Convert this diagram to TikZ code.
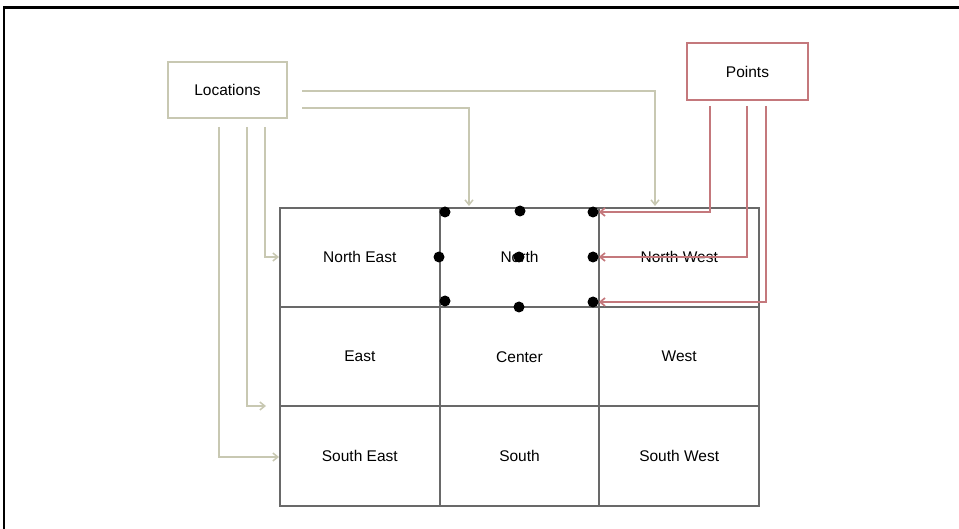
\documentclass[tikz,border=0pt]{standalone}
\usepackage{fontspec}
\setmainfont{Liberation Sans}
\usetikzlibrary{arrows.meta}
\definecolor{beige}{RGB}{200,200,178}
\definecolor{pred}{RGB}{196,120,124}
\definecolor{gridc}{RGB}{105,105,105}
\begin{document}
\begin{tikzpicture}[x=1pt,y=-1pt,
  every node/.style={font=\fontsize{15.5}{18}\selectfont},
  cell/.style={draw=gridc,line width=2pt,minimum width=159.67pt,minimum height=99.33pt,inner sep=0pt},
  lbox/.style={draw=beige,line width=1.4pt,minimum width=119pt,minimum height=56pt,inner sep=0pt},
  pbox/.style={draw=pred,line width=1.4pt,minimum width=121pt,minimum height=57pt,inner sep=0pt},
  larrow/.style={draw=beige,line width=1.5pt,-{Straight Barb[length=5pt,width=8pt]}},
  parrow/.style={draw=pred,line width=1.7pt,-{Straight Barb[length=5pt,width=8pt]}},
  dotn/.style={circle,fill=black,minimum size=11pt,inner sep=0pt}
]
\useasboundingbox (0,0) rectangle (959,529);
% frame
\draw[line width=3pt] (3,8) -- (959,8);
\draw[line width=2pt] (3.7,8) -- (3.7,529);
% grid cells
\node[cell] (ne) at (359.8,257.3) {North East};
\node[cell] (n)  at (519.5,257.3) {North};
\node[cell] (nw) at (679.2,257.3) {North West};
\node[cell] (e)  at (359.8,356.7) {East};
\node[cell] (c)  at (519.5,356.7) {Center};
\node[cell] (w)  at (679.2,356.7) {West};
\node[cell] (se) at (359.8,456.0) {South East};
\node[cell] (s)  at (519.5,456.0) {South};
\node[cell] (sw) at (679.2,456.0) {South West};
% boxes
\node[lbox] (loc) at (227.5,90) {Locations};
\node[pbox] (pts) at (747.5,71.5) {Points};
% dots
\node[dotn] (d1) at (445,212) {};
\node[dotn] (d2) at (520,211) {};
\node[dotn] (d3) at (593,212) {};
\node[dotn] (d4) at (439,257) {};
\node[dotn] (d5) at (519,257) {};
\node[dotn] (d6) at (593,257) {};
\node[dotn] (d7) at (445,301) {};
\node[dotn] (d8) at (519,307) {};
\node[dotn] (d9) at (593,302) {};
% location connectors
\coordinate (la) at (302,91);
\coordinate (lat) at (655,206);
\coordinate (lb) at (302,108);
\coordinate (lbt) at (469,206);
\coordinate (lc) at (265,127);
\coordinate (lct) at (279,257);
\coordinate (ld) at (247,127);
\coordinate (ldt) at (266,406);
\coordinate (le) at (219,127);
\coordinate (let) at (279,457);
\draw[larrow] (la) -| (lat);
\draw[larrow] (lb) -| (lbt);
\draw[larrow] (lc) |- (lct);
\draw[larrow] (ld) |- (ldt);
\draw[larrow] (le) |- (let);
% point connectors
\coordinate (pa) at (710,106);
\coordinate (pb) at (747,106);
\coordinate (pc) at (766,106);
\draw[parrow] (pa) |- (d3.east);
\draw[parrow] (pb) |- (d6.east);
\draw[parrow] (pc) |- (d9.east);
\end{tikzpicture}
\end{document}
